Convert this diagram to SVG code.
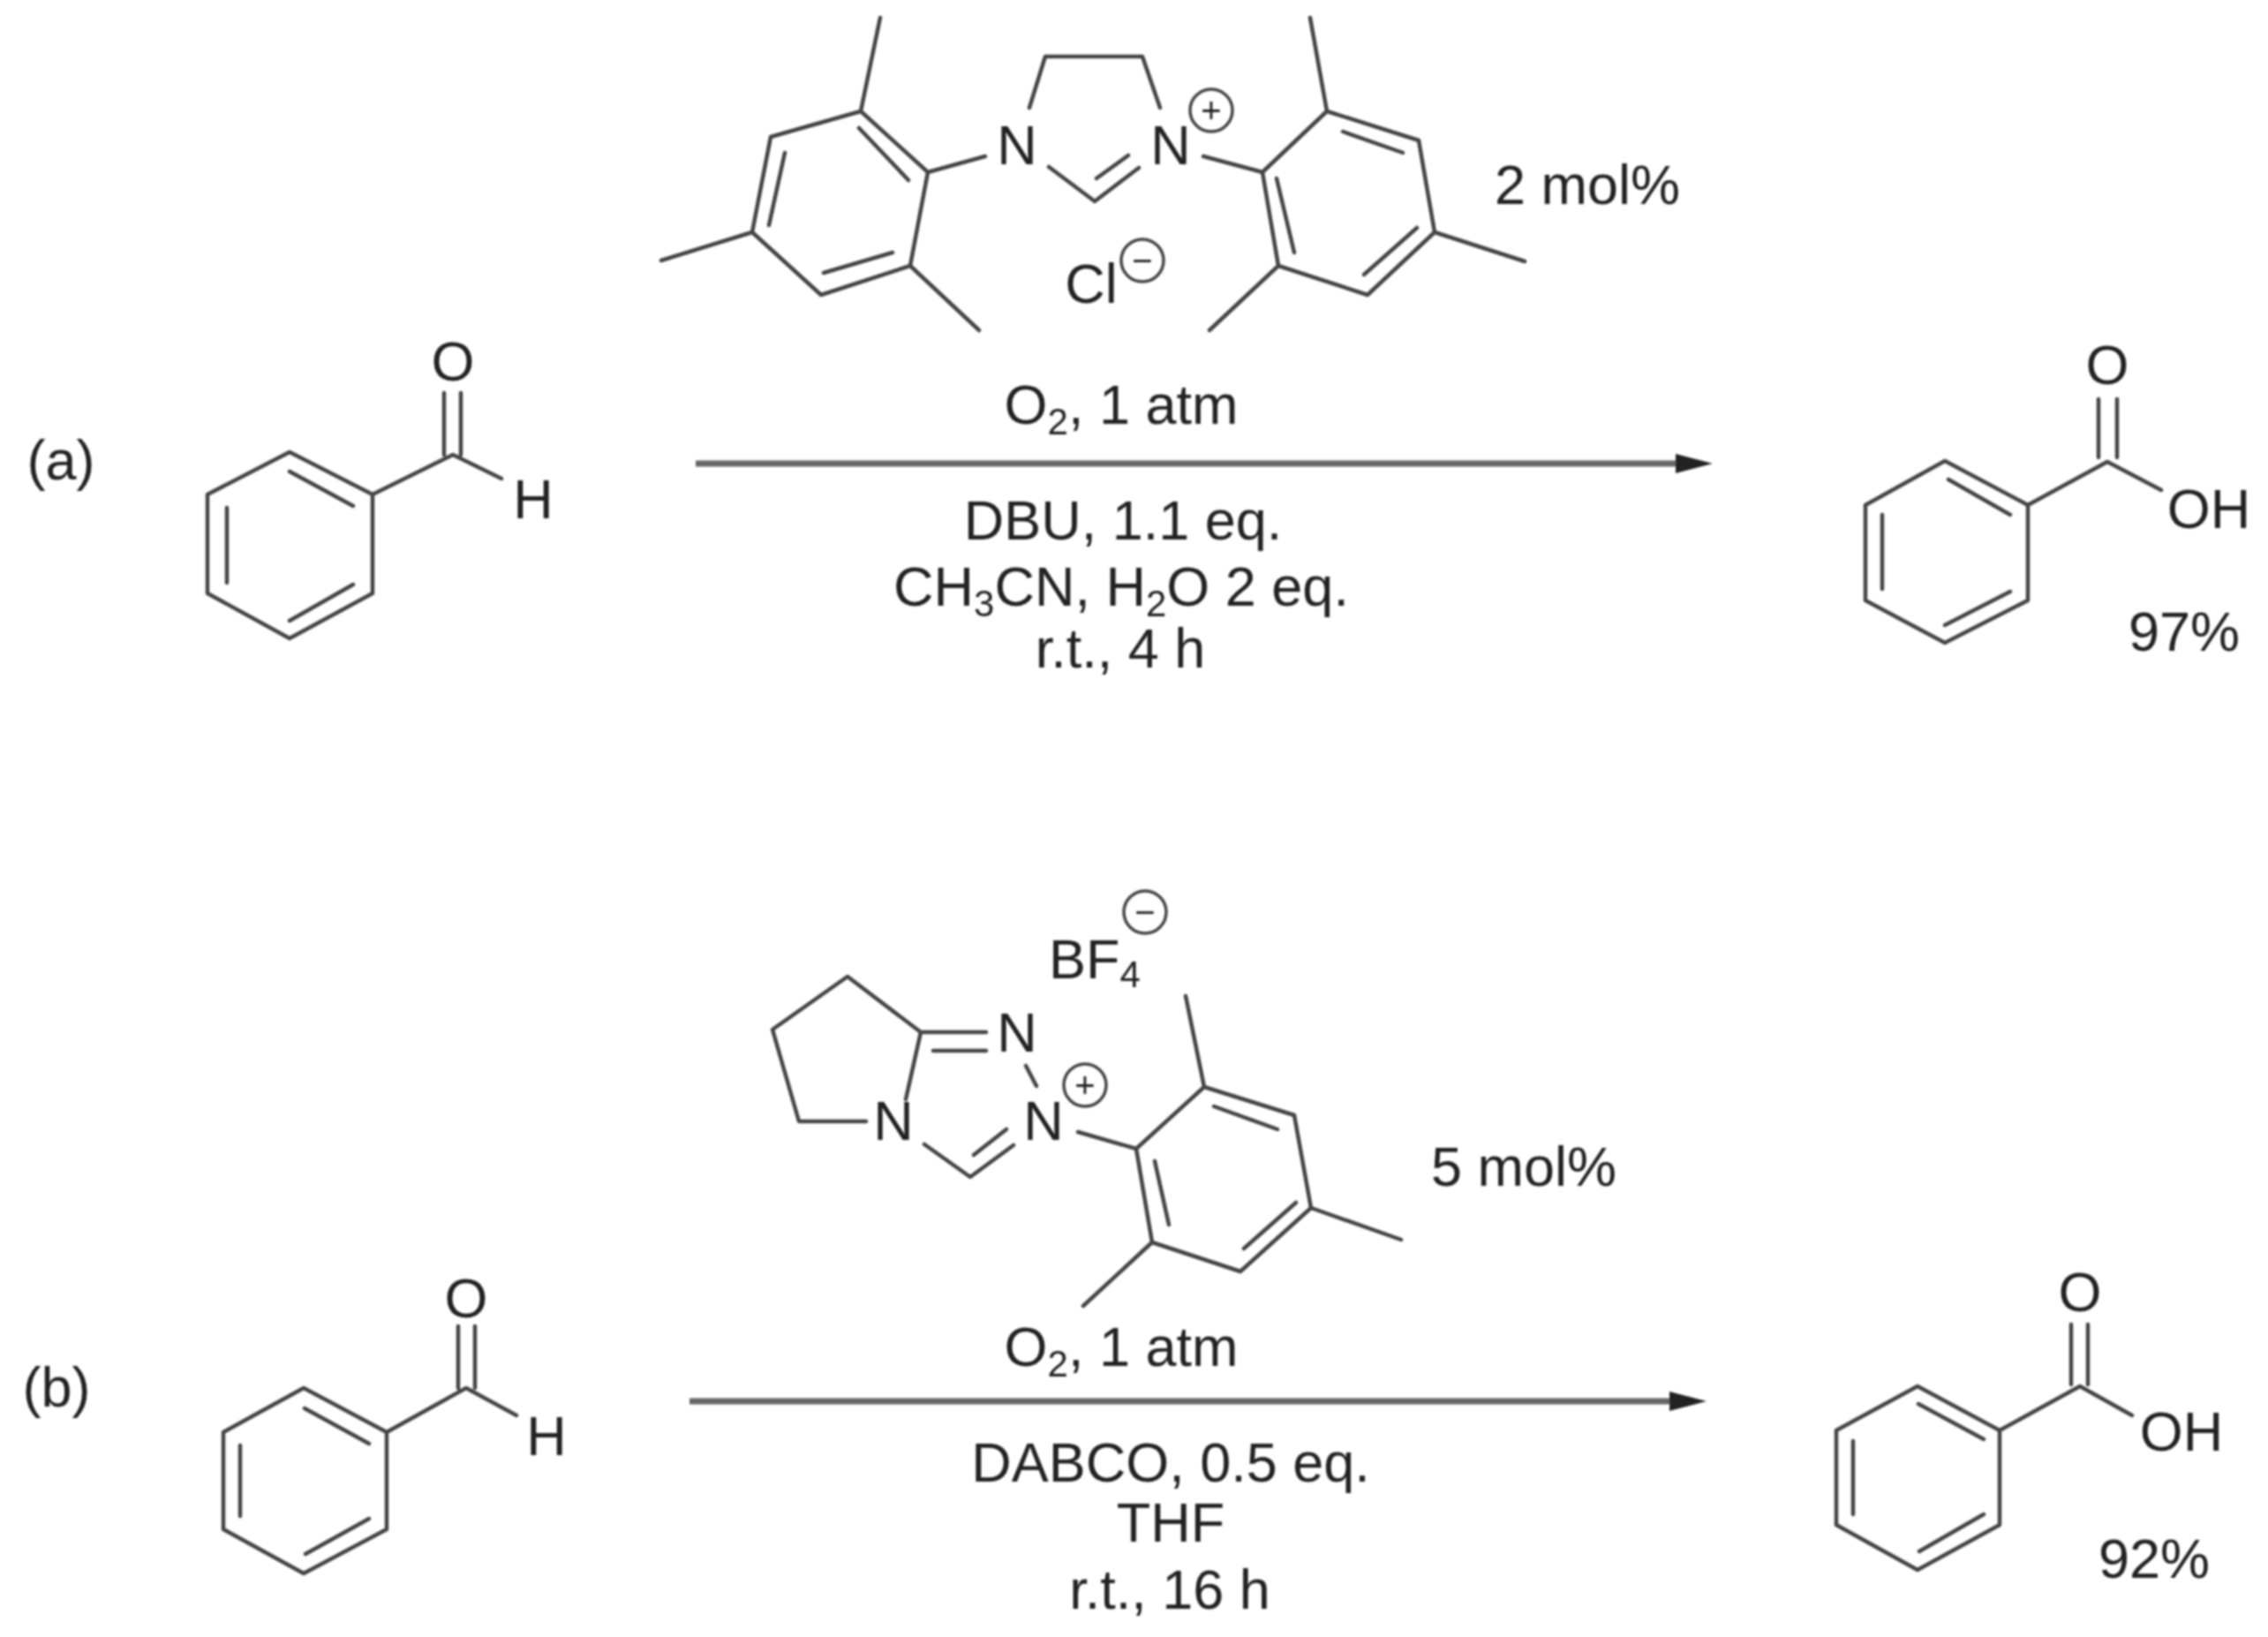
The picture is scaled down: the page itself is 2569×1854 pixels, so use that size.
<svg xmlns="http://www.w3.org/2000/svg" width="2569" height="1854" viewBox="0 0 2569 1854">
<style>
text{font-family:"Liberation Sans",Arial,sans-serif;font-size:63px;fill:#222;text-anchor:middle}
.s{font-size:42px}
.c{font-size:40px}
.b{fill:none;stroke:#444;stroke-width:4.5;stroke-linejoin:round;stroke-linecap:round}
.o{fill:none;stroke:#444;stroke-width:3.5}
.a{fill:none;stroke:#666;stroke-width:7}
</style>
<defs>
<filter id="soft" x="0" y="0" width="100%" height="100%" filterUnits="userSpaceOnUse" primitiveUnits="userSpaceOnUse"><feGaussianBlur stdDeviation="0.8"/></filter>
<marker id="head" markerUnits="userSpaceOnUse" markerWidth="44" markerHeight="28" refX="0" refY="14" orient="auto"><path d="M0 3L42 14L0 25Z" fill="#222"/></marker>
</defs>
<rect width="2569" height="1854" fill="#fff"/>
<g filter="url(#soft)">
<g id="connectors">
<line class="a" x1="788" y1="525" x2="1898" y2="525" marker-end="url(#head)"/>
<line class="a" x1="781" y1="1587" x2="1891" y2="1587" marker-end="url(#head)"/>
</g>
<g id="label-a"><text x="69" y="543">(a)</text></g>
<g id="label-b"><text x="64" y="1593">(b)</text></g>
<g id="benzaldehyde-a">
<path class="b" d="M328 512L422 560V672L328 723L235 672V560ZM328 534L400 573M257 575V660M328 703L400 662M422 560L513 515L568 542M503 445V515M522 445V515"/>
<text x="513" y="431">O</text>
<text x="604" y="587">H</text>
</g>
<g id="acid-a">
<path class="b" d="M2203 522L2297 572V680L2203 728L2113 680V572ZM2207 543L2277 583M2132 583V667M2203 708L2277 670M2297 572L2387 523L2448 555M2377 452V518M2398 452V518"/>
<text x="2387" y="435">O</text>
<text x="2502" y="598">OH</text>
<text x="2474" y="737">97%</text>
</g>
<g id="benzaldehyde-b">
<path class="b" d="M344 1572L438 1622V1732L344 1782L253 1732V1622ZM345 1595L418 1635M272 1637V1717M346 1760L418 1720M438 1622L528 1572L585 1603M519 1502V1572M538 1502V1572"/>
<text x="528" y="1492">O</text>
<text x="619" y="1648">H</text>
</g>
<g id="acid-b">
<path class="b" d="M2172 1570L2265 1620V1727L2172 1778L2080 1727V1620ZM2173 1590L2247 1630M2099 1632V1715M2174 1757L2247 1715M2265 1620L2356 1570L2415 1603M2346 1500V1568M2365 1500V1568"/>
<text x="2356" y="1485">O</text>
<text x="2471" y="1643">OH</text>
<text x="2440" y="1787">92%</text>
</g>
<g id="catalyst-a">
<path class="b" d="M975 126L1051 195L1031 301L930 334L852 263L873 155ZM997 20L975 126M852 263L749 295M1031 301L1109 374M973 145L1029 204M889 173L871 255M933 309L1011 286M1051 195L1116 177"/>
<path class="b" d="M1166 122L1184 64H1294L1314 122M1188 189L1240 228L1290 190M1242 202L1278 176M1363 177L1430 195"/>
<path class="b" d="M1430 195L1503 126L1607 159L1625 263L1549 334L1448 301ZM1503 126L1484 20M1625 263L1727 296M1448 301L1370 374M1521 149L1589 173M1446 202L1466 286M1605 258L1545 311"/>
<text x="1152" y="186">N</text>
<text x="1326" y="186">N</text>
<circle class="o" cx="1372" cy="125" r="24"/>
<text class="c" x="1372" y="139">+</text>
<text x="1236" y="343">Cl</text>
<circle class="o" cx="1294" cy="295" r="24"/>
<text class="c" x="1294" y="309">−</text>
<text x="1798" y="231">2 mol%</text>
</g>
<g id="conditions-a">
<text x="1270" y="480">O<tspan class="s" dy="12">2</tspan><tspan dy="-12">, 1 atm</tspan></text>
<text x="1272" y="611">DBU, 1.1 eq.</text>
<text x="1270" y="686">CH<tspan class="s" dy="12">3</tspan><tspan dy="-12">CN, H</tspan><tspan class="s" dy="12">2</tspan><tspan dy="-12">O 2 eq.</tspan></text>
<text x="1269" y="756">r.t., 4 h</text>
</g>
<g id="catalyst-b">
<path class="b" d="M1026 1245L1043 1169L960 1106L875 1166L905 1270H981M1043 1169H1117M1057 1190H1117M1162 1207L1174 1230M1047 1296L1099 1333L1148 1297M1103 1308L1140 1279M1221 1282L1287 1301"/>
<path class="b" d="M1287 1301L1364 1231L1466 1263L1485 1368L1405 1440L1305 1407ZM1364 1231L1343 1128M1485 1368L1587 1404M1305 1407L1227 1479M1375 1253L1447 1279M1308 1315L1324 1387M1468 1362L1409 1414"/>
<text x="1152" y="1191">N</text>
<text x="1012" y="1291">N</text>
<text x="1182" y="1291">N</text>
<circle class="o" cx="1229" cy="1229" r="24"/>
<text class="c" x="1229" y="1243">+</text>
<text x="1240" y="1108">BF<tspan class="s" dy="10">4</tspan></text>
<circle class="o" cx="1297" cy="1033" r="24"/>
<text class="c" x="1297" y="1047">−</text>
<text x="1726" y="1343">5 mol%</text>
</g>
<g id="conditions-b">
<text x="1270" y="1547">O<tspan class="s" dy="12">2</tspan><tspan dy="-12">, 1 atm</tspan></text>
<text x="1326" y="1678">DABCO, 0.5 eq.</text>
<text x="1326" y="1746">THF</text>
<text x="1325" y="1822">r.t., 16 h</text>
</g>
</g>
</svg>
